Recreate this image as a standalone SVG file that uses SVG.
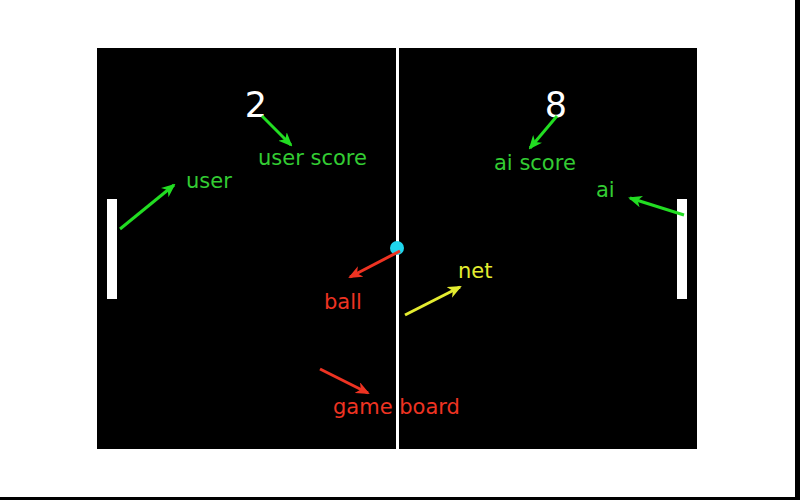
<svg xmlns="http://www.w3.org/2000/svg" width="800" height="500" viewBox="0 0 800 500">
<defs>
<marker id="ag" viewBox="0 0 14 12" refX="12" refY="6" markerWidth="14" markerHeight="12" markerUnits="userSpaceOnUse" orient="auto"><path d="M0,0 L14,6 L0,12 L4,6 Z" fill="#22dd22"/></marker>
<marker id="ar" viewBox="0 0 14 12" refX="12" refY="6" markerWidth="14" markerHeight="12" markerUnits="userSpaceOnUse" orient="auto"><path d="M0,0 L14,6 L0,12 L4,6 Z" fill="#ee3322"/></marker>
<marker id="ay" viewBox="0 0 14 12" refX="12" refY="6" markerWidth="14" markerHeight="12" markerUnits="userSpaceOnUse" orient="auto"><path d="M0,0 L14,6 L0,12 L4,6 Z" fill="#e4ec30"/></marker>
</defs>
<style>
.lbl{font-family:"DejaVu Sans",sans-serif;font-size:21px}
.g{fill:#33cc33}
.r{fill:#ee3322}
.y{fill:#e4ec30}
.sc{font-family:"DejaVu Sans",sans-serif;font-size:35px;fill:#ffffff;text-anchor:middle}
.c{stroke-width:3;fill:none}
.cg{stroke:#22dd22}
.cr{stroke:#ee3322}
.cy{stroke:#e4ec30}
</style>
<rect width="800" height="500" fill="#ffffff"/>
<rect x="795" y="0" width="5" height="500" fill="#000000"/>
<rect x="0" y="497" width="800" height="3" fill="#000000"/>
<g id="board"><rect x="97" y="48" width="600" height="401" fill="#000000"/></g>
<g id="net"><rect x="396" y="48" width="3" height="401" fill="#ffffff"/></g>
<g id="user-paddle"><rect x="107" y="199" width="10" height="100" fill="#ffffff"/></g>
<g id="ai-paddle"><rect x="677" y="199" width="10" height="100" fill="#ffffff"/></g>
<g id="ball-shape"><circle cx="397" cy="248" r="7" fill="#1fd6ee"/></g>
<g id="user-score-value"><text class="sc" x="256" y="117">2</text></g>
<g id="ai-score-value"><text class="sc" x="556" y="117">8</text></g>
<g id="connectors">
<line class="c cg" x1="262" y1="116" x2="291" y2="145" marker-end="url(#ag)"/>
<line class="c cg" x1="120" y1="229" x2="174" y2="185" marker-end="url(#ag)"/>
<line class="c cg" x1="557" y1="116" x2="530" y2="148" marker-end="url(#ag)"/>
<line class="c cg" x1="684" y1="215" x2="630" y2="198" marker-end="url(#ag)"/>
<line class="c cr" x1="400" y1="251" x2="350" y2="277" marker-end="url(#ar)"/>
<line class="c cy" x1="405" y1="315" x2="460" y2="287" marker-end="url(#ay)"/>
<line class="c cr" x1="320" y1="369" x2="368" y2="393" marker-end="url(#ar)"/>
</g>
<g id="label-user-score"><text class="lbl g" x="258" y="165">user score</text></g>
<g id="label-user"><text class="lbl g" x="186" y="188">user</text></g>
<g id="label-ai-score"><text class="lbl g" x="494" y="170">ai score</text></g>
<g id="label-ai"><text class="lbl g" x="596" y="197">ai</text></g>
<g id="label-ball"><text class="lbl r" x="324" y="309">ball</text></g>
<g id="label-net"><text class="lbl y" x="458" y="278">net</text></g>
<g id="label-game-board"><text class="lbl r" x="333" y="414">game board</text></g>
</svg>
